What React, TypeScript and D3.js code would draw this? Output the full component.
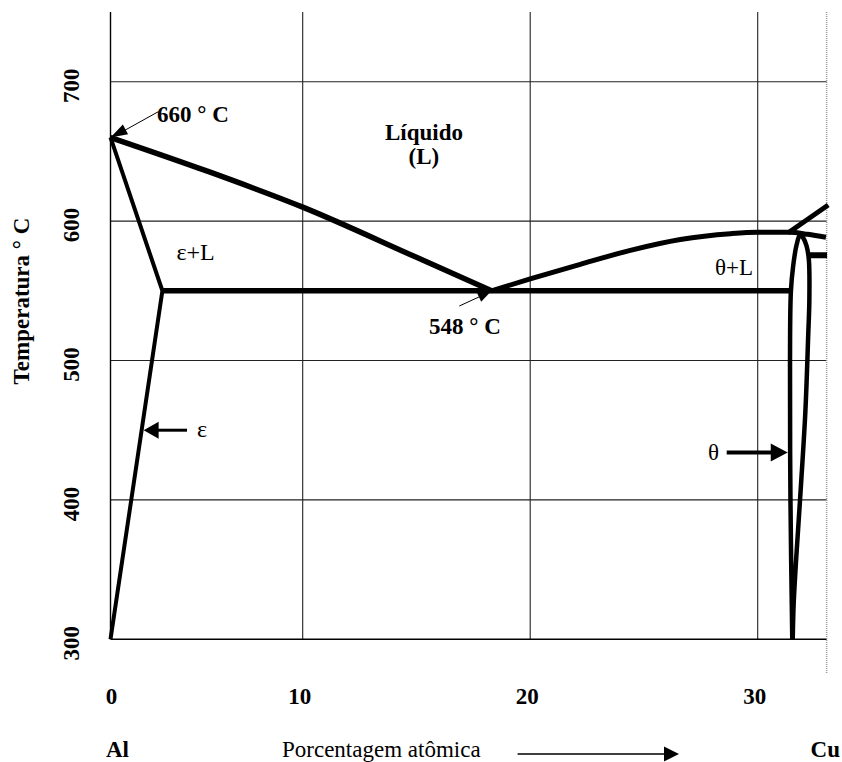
import React from 'react';
import * as d3 from 'd3';

// ---- data (atomic % Cu, temperature °C) ----
const xTicks: number[] = [0, 10, 20, 30];
const yTicks: number[] = [300, 400, 500, 600, 700];
const liquidusAl: [number, number][] = [[0, 660], [5, 636], [10, 610], [15, 574], [18.3, 550]];
const liquidusTheta: [number, number][] = [[18.3, 550], [20, 558.5], [22.2, 569], [24.4, 579], [26.6, 586.8], [28.8, 591], [30, 592], [31.4, 592], [32.2, 590.5], [33, 588.4]];
const epsilonBoundary: [number, number][] = [[0, 660], [2.7, 550], [0, 300]];
const eutecticLine: [number, number][] = [[2.7, 550], [31.45, 550]];
const thetaLens: [number, number][] = [[31.52, 300], [31.44, 400], [31.42, 500], [31.46, 550], [31.56, 568], [31.71, 583], [31.86, 590], [32.0, 588], [32.15, 582], [32.25, 572], [32.27, 543], [32.22, 518], [32.1, 465], [31.9, 410], [31.7, 360], [31.58, 325], [31.54, 300]];
const upperLine: [number, number][] = [[31.33, 591.5], [33.1, 611.5]];
const stubLine: [number, number][] = [[32.27, 575.5], [33.05, 575.5]];
const meltingPoint = { x: 0, t: 660, label: '660 ° C' };
const eutecticPoint = { x: 18.3, t: 550, label: '548 ° C' };

const W = 842;
const H = 762;

const x = d3.scaleLinear().domain([0, 10, 30]).range([110.5, 302.7, 757.7]);
const y = d3.scaleLinear().domain([300, 700]).range([639.3, 81.7]);
const xMax = 33.03;
const yMax = 750;

const lineStraight = d3.line<[number, number]>().x(d => x(d[0])).y(d => y(d[1]));
const lineMono = d3.line<[number, number]>().x(d => x(d[0])).y(d => y(d[1])).curve(d3.curveMonotoneX);
const lineCurve = d3.line<[number, number]>().x(d => x(d[0])).y(d => y(d[1])).curve(d3.curveCatmullRom.alpha(0.5));

function arrowHead(tx: number, ty: number, fx: number, fy: number, len: number, hw: number): string {
  const dx = tx - fx, dy = ty - fy;
  const L = Math.hypot(dx, dy);
  const ux = dx / L, uy = dy / L;
  const bx = tx - ux * len, by = ty - uy * len;
  const px = -uy, py = ux;
  return `M${tx},${ty}L${bx + px * hw},${by + py * hw}L${bx - px * hw},${by - py * hw}Z`;
}

const serif = '"Liberation Serif", "Times New Roman", serif';

export default function App() {
  const x0 = x(0), x1 = x(xMax), yTop = y(yMax), yBot = y(300);

  const mpX = x(meltingPoint.x), mpY = y(meltingPoint.t);
  const epX = x(eutecticPoint.x), epY = y(eutecticPoint.t);

  const epsT = 450;
  const epsLineX = x(2.7 * (epsT - 300) / 250) + 2;
  const epsY = y(epsT);
  const thT = 434;
  const thLineX = x(31.43) - 2.5;
  const thY = y(thT);

  return (
    <svg width={W} height={H} style={{ position: 'absolute', left: 0, top: 0, background: '#fff' }} fontFamily={serif}>
      <rect width={W} height={H} fill="#fff" />
      {/* grid */}
      {yTicks.filter(t => t !== 300).map(t => (
        <line key={'gy' + t} x1={x0} x2={x1} y1={y(t)} y2={y(t)} stroke="#222" strokeWidth={1.1} />
      ))}
      {xTicks.filter(t => t !== 0).map(t => (
        <line key={'gx' + t} x1={x(t)} x2={x(t)} y1={yTop} y2={yBot} stroke="#222" strokeWidth={1.1} />
      ))}
      {/* axes */}
      <line x1={x0} x2={x0} y1={yTop} y2={yBot} stroke="#000" strokeWidth={1.4} />
      <line x1={x0} x2={x1} y1={yBot} y2={yBot} stroke="#000" strokeWidth={1.4} />
      <line x1={x1} x2={x1} y1={yTop} y2={673} stroke="#999" strokeWidth={1.5} strokeDasharray="1,1" />

      {/* phase boundaries */}
      <path d={lineMono(liquidusAl) || ''} fill="none" stroke="#000" strokeWidth={5.5} strokeLinejoin="round" />
      <path d={lineMono(liquidusTheta) || ''} fill="none" stroke="#000" strokeWidth={5} strokeLinejoin="round" />
      <path d={lineStraight(epsilonBoundary) || ''} fill="none" stroke="#000" strokeWidth={4} strokeLinejoin="miter" />
      <path d={lineStraight(eutecticLine) || ''} fill="none" stroke="#000" strokeWidth={5.5} />
      <path d={lineCurve(thetaLens) || ''} fill="none" stroke="#000" strokeWidth={4.5} strokeLinejoin="round" />
      <path d={lineStraight(upperLine) || ''} fill="none" stroke="#000" strokeWidth={5} />
      <path d={lineStraight(stubLine) || ''} fill="none" stroke="#000" strokeWidth={6} />

      {/* y tick labels */}
      {yTicks.map(t => (
        <text key={'yl' + t} transform={`translate(79,${y(t) + 4}) rotate(-90)`} textAnchor="middle" fontSize={23} fontWeight="bold">{t}</text>
      ))}
      {/* x tick labels */}
      {xTicks.map(t => (
        <text key={'xl' + t} x={x(t) - (t === 0 ? -1 : 3)} y={704} textAnchor="middle" fontSize={23} fontWeight="bold">{t}</text>
      ))}
      {/* axis titles */}
      <text transform="translate(28.5,301) rotate(-90)" textAnchor="middle" fontSize={23} fontWeight="bold">Temperatura ° C</text>
      <text x={106} y={757} fontSize={23} fontWeight="bold">Al</text>
      <text x={282} y={757} fontSize={23}>Porcentagem atômica</text>
      <line x1={517.6} x2={666} y1={754} y2={754} stroke="#000" strokeWidth={1.5} />
      <path d={arrowHead(679, 754, 517.6, 754, 15, 7.5)} fill="#000" />
      <text x={840} y={757} textAnchor="end" fontSize={23} fontWeight="bold">Cu</text>

      {/* region labels */}
      <text x={x(15.33)} y={140} textAnchor="middle" fontSize={23} fontWeight="bold">Líquido</text>
      <text x={x(15.33)} y={164} textAnchor="middle" fontSize={23} fontWeight="bold">(L)</text>
      <text x={176.5} y={260} fontSize={24}>ε+L</text>
      <text x={753} y={275} textAnchor="end" fontSize={23}>θ+L</text>

      {/* 660 annotation */}
      <line x1={158.3} y1={111.7} x2={mpX + 14} y2={mpY - 7} stroke="#000" strokeWidth={1} />
      <path d={arrowHead(mpX, mpY, 158.3, 111.7, 17, 5.5)} fill="#000" />
      <text x={157} y={122} fontSize={23} fontWeight="bold">{meltingPoint.label}</text>

      {/* 548 annotation */}
      <line x1={459.3} y1={306} x2={epX - 10} y2={epY + 5} stroke="#000" strokeWidth={1} />
      <path d={arrowHead(epX, epY, 459.3, 306, 14, 5.5)} fill="#000" />
      <text x={429} y={334} fontSize={23} fontWeight="bold">{eutecticPoint.label}</text>

      {/* epsilon arrow */}
      <line x1={187} y1={epsY} x2={epsLineX + 12} y2={epsY} stroke="#000" strokeWidth={3} />
      <path d={arrowHead(epsLineX, epsY, 187, epsY, 15, 8.5)} fill="#000" />
      <text x={197} y={437} fontSize={24}>ε</text>

      {/* theta arrow */}
      <line x1={726.7} y1={thY} x2={thLineX - 14} y2={thY} stroke="#000" strokeWidth={4} />
      <path d={arrowHead(thLineX, thY, 726.7, thY, 17, 9)} fill="#000" />
      <text x={708} y={460} fontSize={23}>θ</text>
    </svg>
  );
}
